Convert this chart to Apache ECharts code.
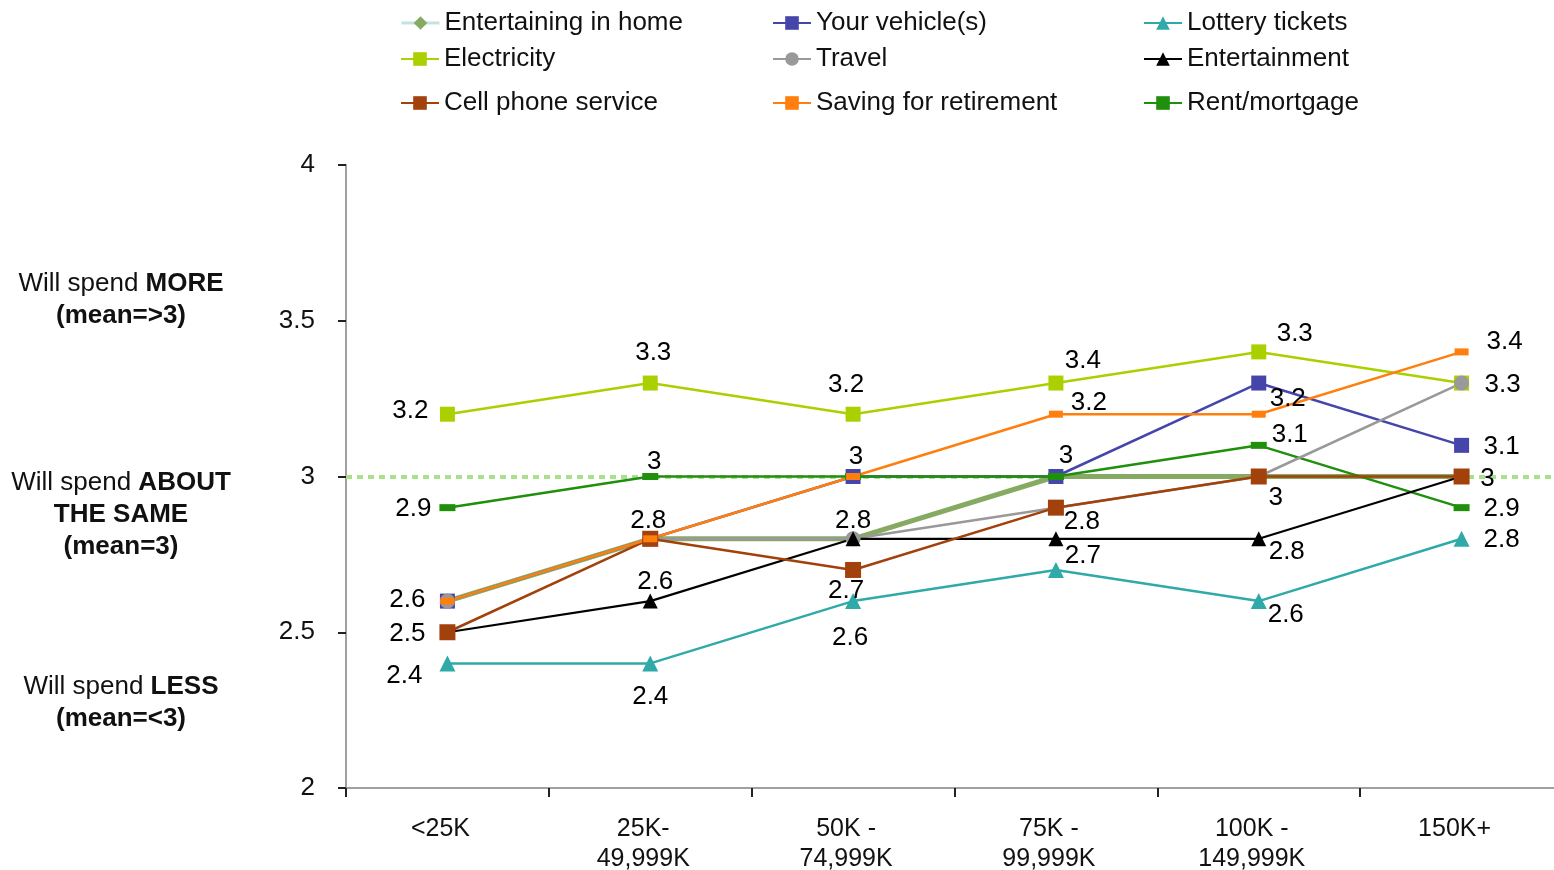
<!DOCTYPE html>
<html>
<head>
<meta charset="utf-8">
<script src="https://cdn.jsdelivr.net/npm/echarts@6/dist/echarts.min.js"></script>
<style>html,body{margin:0;padding:0;background:#fff;}#chart{width:1554px;height:870px;}</style>
</head>
<body>
<div id="chart"></div>
<script>
// ---------- DATA ----------
const categories = ['<25K', '25K-\n49,999K', '50K -\n74,999K', '75K -\n99,999K', '100K -\n149,999K', '150K+'];
const yTicks = [2, 2.5, 3, 3.5, 4];
const referenceLevel = 3;

const entertainingInHome  = [2.6, 2.8, 2.8, 3.0, 3.0, 3.0];
const yourVehicles        = [2.6, 2.8, 3.0, 3.0, 3.3, 3.1];
const lotteryTickets      = [2.4, 2.4, 2.6, 2.7, 2.6, 2.8];
const electricity         = [3.2, 3.3, 3.2, 3.3, 3.4, 3.3];
const travel              = [2.6, 2.8, 2.8, 2.9, 3.0, 3.3];
const entertainment       = [2.5, 2.6, 2.8, 2.8, 2.8, 3.0];
const cellPhoneService    = [2.5, 2.8, 2.7, 2.9, 3.0, 3.0];
const savingForRetirement = [2.6, 2.8, 3.0, 3.2, 3.2, 3.4];
const rentMortgage        = [2.9, 3.0, 3.0, 3.0, 3.1, 2.9];

// data-label texts as printed on the chart (null = not shown)
const entertainingInHomeLabels  = [null, null, null, null, null, null];
const yourVehiclesLabels        = ['2.6', '2.8', '3', '3', null, '3.1'];
const lotteryTicketsLabels      = ['2.4', '2.4', '2.6', '2.7', '2.6', '2.8'];
const electricityLabels         = ['3.2', '3.3', '3.2', '3.4', '3.3', null];
const travelLabels              = [null, null, null, null, null, '3.3'];
const entertainmentLabels       = [null, '2.6', '2.8', '2.8', '2.8', null];
const cellPhoneServiceLabels    = ['2.5', null, '2.7', null, '3', '3'];
const savingForRetirementLabels = [null, null, null, '3.2', '3.2', '3.4'];
const rentMortgageLabels        = ['2.9', '3', null, null, '3.1', '2.9'];

// ---------- STYLE / LAYOUT ----------
const FONT = 'Liberation Sans, Arial, Helvetica, sans-serif';
const labelOffsets = {
  'Your vehicle(s)':        [[-40,-1],[-2,-18],[3,-20],[10,-21],[0,0],[40,1]],
  'Lottery tickets':        [[-43,12],[0,33],[-3,37],[27,-14],[27,14],[40,1]],
  'Electricity':            [[-37,-3],[3,-30],[-7,-29],[27,-22],[36,-18],[0,0]],
  'Travel':                 [[0,0],[0,0],[0,0],[0,0],[0,0],[41,2]],
  'Entertainment':          [[0,0],[5,-19],[0,-18],[26,-17],[28,13],[0,0]],
  'Cell phone service':     [[-40,2],[0,0],[-7,21],[0,0],[17,21],[26,2]],
  'Saving for retirement':  [[0,0],[0,0],[0,0],[33,-11],[29,-15],[43,-10]],
  'Rent/mortgage':          [[-34,1],[4,-15],[0,0],[0,0],[31,-11],[40,1]],
  'Entertaining in home':   [[0,0],[0,0],[0,0],[0,0],[0,0],[0,0]]
};

function buildData(values, labels, name) {
  return values.map((v, i) => {
    const t = labels[i];
    if (t === null) return { value: v, label: { show: false } };
    return {
      value: v,
      label: {
        show: true, formatter: t, position: 'inside', offset: labelOffsets[name][i],
        color: '#000', fontSize: 26, fontFamily: FONT, align: 'center', verticalAlign: 'middle'
      }
    };
  });
}

function mk(name, values, labels, color, symbol, symbolSize, width) {
  return {
    name: name, type: 'line', data: buildData(values, labels, name),
    symbol: symbol, symbolSize: symbolSize, showSymbol: true,
    lineStyle: { color: color, width: width },
    itemStyle: { color: color, borderWidth: 0 },
    emphasis: { disabled: true },
    animation: false
  };
}

const series = [
  Object.assign(mk('Entertaining in home', entertainingInHome, entertainingInHomeLabels, '#87aa62', 'diamond', 15, 5), {
    markLine: {
      silent: true, symbol: 'none', label: { show: false }, z: 1,
      lineStyle: { color: '#a9e08a', type: [6, 5], width: 4 },
      data: [{ yAxis: referenceLevel }]
    }
  }),
  mk('Electricity', electricity, electricityLabels, '#aad000', 'rect', 15, 2.5),
  mk('Your vehicle(s)', yourVehicles, yourVehiclesLabels, '#4646aa', 'rect', 15, 2.5),
  mk('Rent/mortgage', rentMortgage, rentMortgageLabels, '#1f8f0c', 'rect', [16, 7], 2.5),
  mk('Lottery tickets', lotteryTickets, lotteryTicketsLabels, '#30aaa8', 'triangle', 16, 2.5),
  mk('Travel', travel, travelLabels, '#999999', 'circle', 15, 2.5),
  mk('Entertainment', entertainment, entertainmentLabels, '#000000', 'triangle', 15, 2.2),
  mk('Cell phone service', cellPhoneService, cellPhoneServiceLabels, '#a2410b', 'rect', 16, 2.5),
  mk('Saving for retirement', savingForRetirement, savingForRetirementLabels, '#ff7f0e', 'rect', [14, 7], 2.5)
];

const legendLayout = [
  ['Entertaining in home', 400, 10], ['Your vehicle(s)', 772, 10], ['Lottery tickets', 1143, 10],
  ['Electricity', 400, 46], ['Travel', 772, 46], ['Entertainment', 1143, 46],
  ['Cell phone service', 400, 90], ['Saving for retirement', 772, 90], ['Rent/mortgage', 1143, 90]
];
const legends = legendLayout.map(([n, x, y]) => {
  const item = { name: n };
  if (n === 'Entertaining in home') item.lineStyle = { color: '#c5e3dc', width: 3 };
  return {
    data: [item], left: x, top: y, padding: 0, itemWidth: 38, itemHeight: 17,
    selectedMode: false,
    textStyle: { fontSize: 26, fontFamily: FONT, color: '#111' }
  };
});

const sideText = [
  { text: 'Will spend {b|MORE}\n{b|(mean=>3)}', y: 284 },
  { text: 'Will spend {b|ABOUT}\n{b|THE SAME}\n{b|(mean=3)}', y: 483 },
  { text: 'Will spend {b|LESS}\n{b|(mean=<3)}', y: 687 }
];

const chart = echarts.init(document.getElementById('chart'), null, { renderer: 'canvas' });
chart.setOption({
  backgroundColor: '#fff',
  animation: false,
  legend: legends,
  grid: { left: 346, top: 165, width: 1217, height: 623, containLabel: false, outerBoundsMode: 'none' },
  xAxis: {
    type: 'category', data: categories, boundaryGap: true,
    axisLine: { lineStyle: { color: '#a0a0a0', width: 2 } },
    axisTick: { show: true, length: 9, lineStyle: { color: '#222', width: 2 } },
    axisLabel: { fontSize: 25, fontFamily: FONT, color: '#111', margin: 26, lineHeight: 30, interval: 0, padding: [0, 14, 0, 0] },
    splitLine: { show: false }
  },
  yAxis: {
    type: 'value', min: yTicks[0], max: yTicks[yTicks.length - 1], interval: 0.5,
    axisLine: { show: true, lineStyle: { color: '#a0a0a0', width: 2 } },
    axisTick: { show: true, length: 8, lineStyle: { color: '#222', width: 2 } },
    axisLabel: { fontSize: 26, fontFamily: FONT, color: '#111', margin: 31 },
    splitLine: { show: false }
  },
  graphic: sideText.map(s => ({
    type: 'text', x: 121, y: s.y - 16,
    style: {
      text: s.text, fill: '#111', fontSize: 26, fontFamily: FONT, lineHeight: 32,
      align: 'center', verticalAlign: 'top',
      rich: { b: { fontWeight: 'bold', fontSize: 26, fontFamily: FONT, lineHeight: 32, fill: '#111' } }
    }
  })),
  series: series
});
</script>
</body>
</html>
